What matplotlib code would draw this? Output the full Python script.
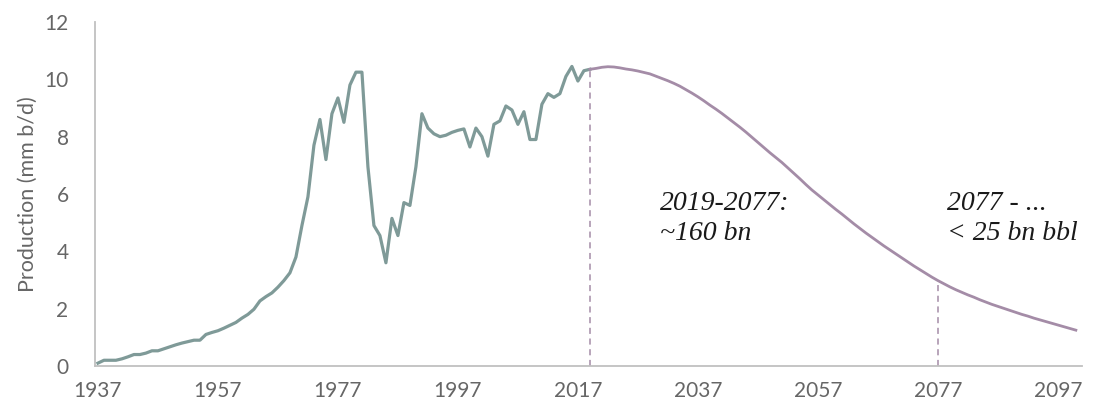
import matplotlib
matplotlib.use("Agg")
import matplotlib.pyplot as plt
import numpy as np

# Historical production (mm b/d), 1937-2019
hist_years = list(range(1937, 2020))
hist_values = [
    0.10, 0.20, 0.20, 0.20, 0.25, 0.32, 0.40, 0.40, 0.45, 0.53,
    0.53, 0.60, 0.67, 0.74, 0.80, 0.85, 0.90, 0.90, 1.10, 1.17,
    1.23, 1.32, 1.42, 1.52, 1.67, 1.80, 1.98, 2.27, 2.42, 2.55,
    2.75, 2.98, 3.25, 3.80, 4.90, 5.90, 7.70, 8.60, 7.20, 8.80,
    9.35, 8.50, 9.80, 10.25, 10.25, 6.95, 4.90, 4.55, 3.60, 5.15,
    4.55, 5.70, 5.60, 6.95, 8.80, 8.30, 8.10, 8.00, 8.05, 8.15,
    8.22, 8.27, 7.64, 8.30, 8.00, 7.32, 8.43, 8.55, 9.07, 8.93,
    8.43, 8.87, 7.90, 7.90, 9.13, 9.50, 9.37, 9.50, 10.10, 10.45,
    9.94, 10.30, 10.35,
]

# Projected production (mm b/d), 2019-2100
proj_years = list(range(2019, 2101))
proj_values = [
    10.35, 10.38, 10.42, 10.44, 10.43, 10.40, 10.36, 10.33, 10.29, 10.24,
    10.19, 10.11, 10.03, 9.95, 9.86, 9.76, 9.64, 9.52, 9.39, 9.25,
    9.10, 8.96, 8.81, 8.65, 8.49, 8.33, 8.16, 7.98, 7.80, 7.62,
    7.44, 7.27, 7.10, 6.91, 6.72, 6.53, 6.33, 6.14, 5.97, 5.80,
    5.63, 5.46, 5.30, 5.13, 4.96, 4.80, 4.64, 4.49, 4.34, 4.19,
    4.05, 3.91, 3.77, 3.63, 3.49, 3.36, 3.23, 3.10, 2.98, 2.87,
    2.76, 2.66, 2.57, 2.48, 2.40, 2.31, 2.23, 2.15, 2.08, 2.01,
    1.94, 1.87, 1.80, 1.74, 1.67, 1.61, 1.55, 1.49, 1.43, 1.37,
    1.31, 1.25,
]

xtick_years = [1937, 1957, 1977, 1997, 2017, 2037, 2057, 2077, 2097]
ytick_values = [0, 2, 4, 6, 8, 10, 12]
marker_years = [2019, 2077]
annotations = [("2019-2077:\n~160 bn", 2030.7), ("2077 - ...\n< 25 bn bbl", 2078.6)]

hist_color = "#7f9a98"
proj_color = "#a48ca7"
axis_color = "#c0c0c0"
text_color = "#666666"

fig = plt.figure(figsize=(10.99, 4.11), dpi=100)
ax = fig.add_axes([0.0864, 0.1095, 0.898, 0.837])

ax.plot(hist_years, hist_values, color=hist_color, lw=2.3, solid_joinstyle="round", zorder=3)
ax.plot(proj_years, proj_values, color=proj_color, lw=2.0, zorder=3)

for yr in marker_years:
    top = proj_values[proj_years.index(yr)]
    ax.vlines(yr, 0, top, colors=proj_color, linestyles=(0, (4, 3)), lw=1.1, zorder=2)

for txt, xpos in annotations:
    ax.text(xpos, 6.12, txt, fontsize=20, family="Liberation Serif", style="italic",
            color="#1a1a1a", va="top", ha="left", linespacing=1.3)

ax.set_xlim(1936.5, 2101.0)
ax.set_ylim(0, 12)
ax.set_xticks(xtick_years)
ax.set_yticks(ytick_values)
ax.tick_params(axis="both", length=0, labelsize=15, labelcolor=text_color)
ax.tick_params(axis="x", pad=11)
ax.tick_params(axis="y", pad=19)
for lab in ax.get_xticklabels() + ax.get_yticklabels():
    lab.set_family("Lato")

for side in ["top", "right"]:
    ax.spines[side].set_visible(False)
for side in ["left", "bottom"]:
    ax.spines[side].set_color(axis_color)
    ax.spines[side].set_linewidth(1.3)

ax.set_ylabel("Production (mm b/d)", fontsize=15.5, color=text_color, family="Lato",
              labelpad=5)

fig.savefig("out.png", dpi=100)
